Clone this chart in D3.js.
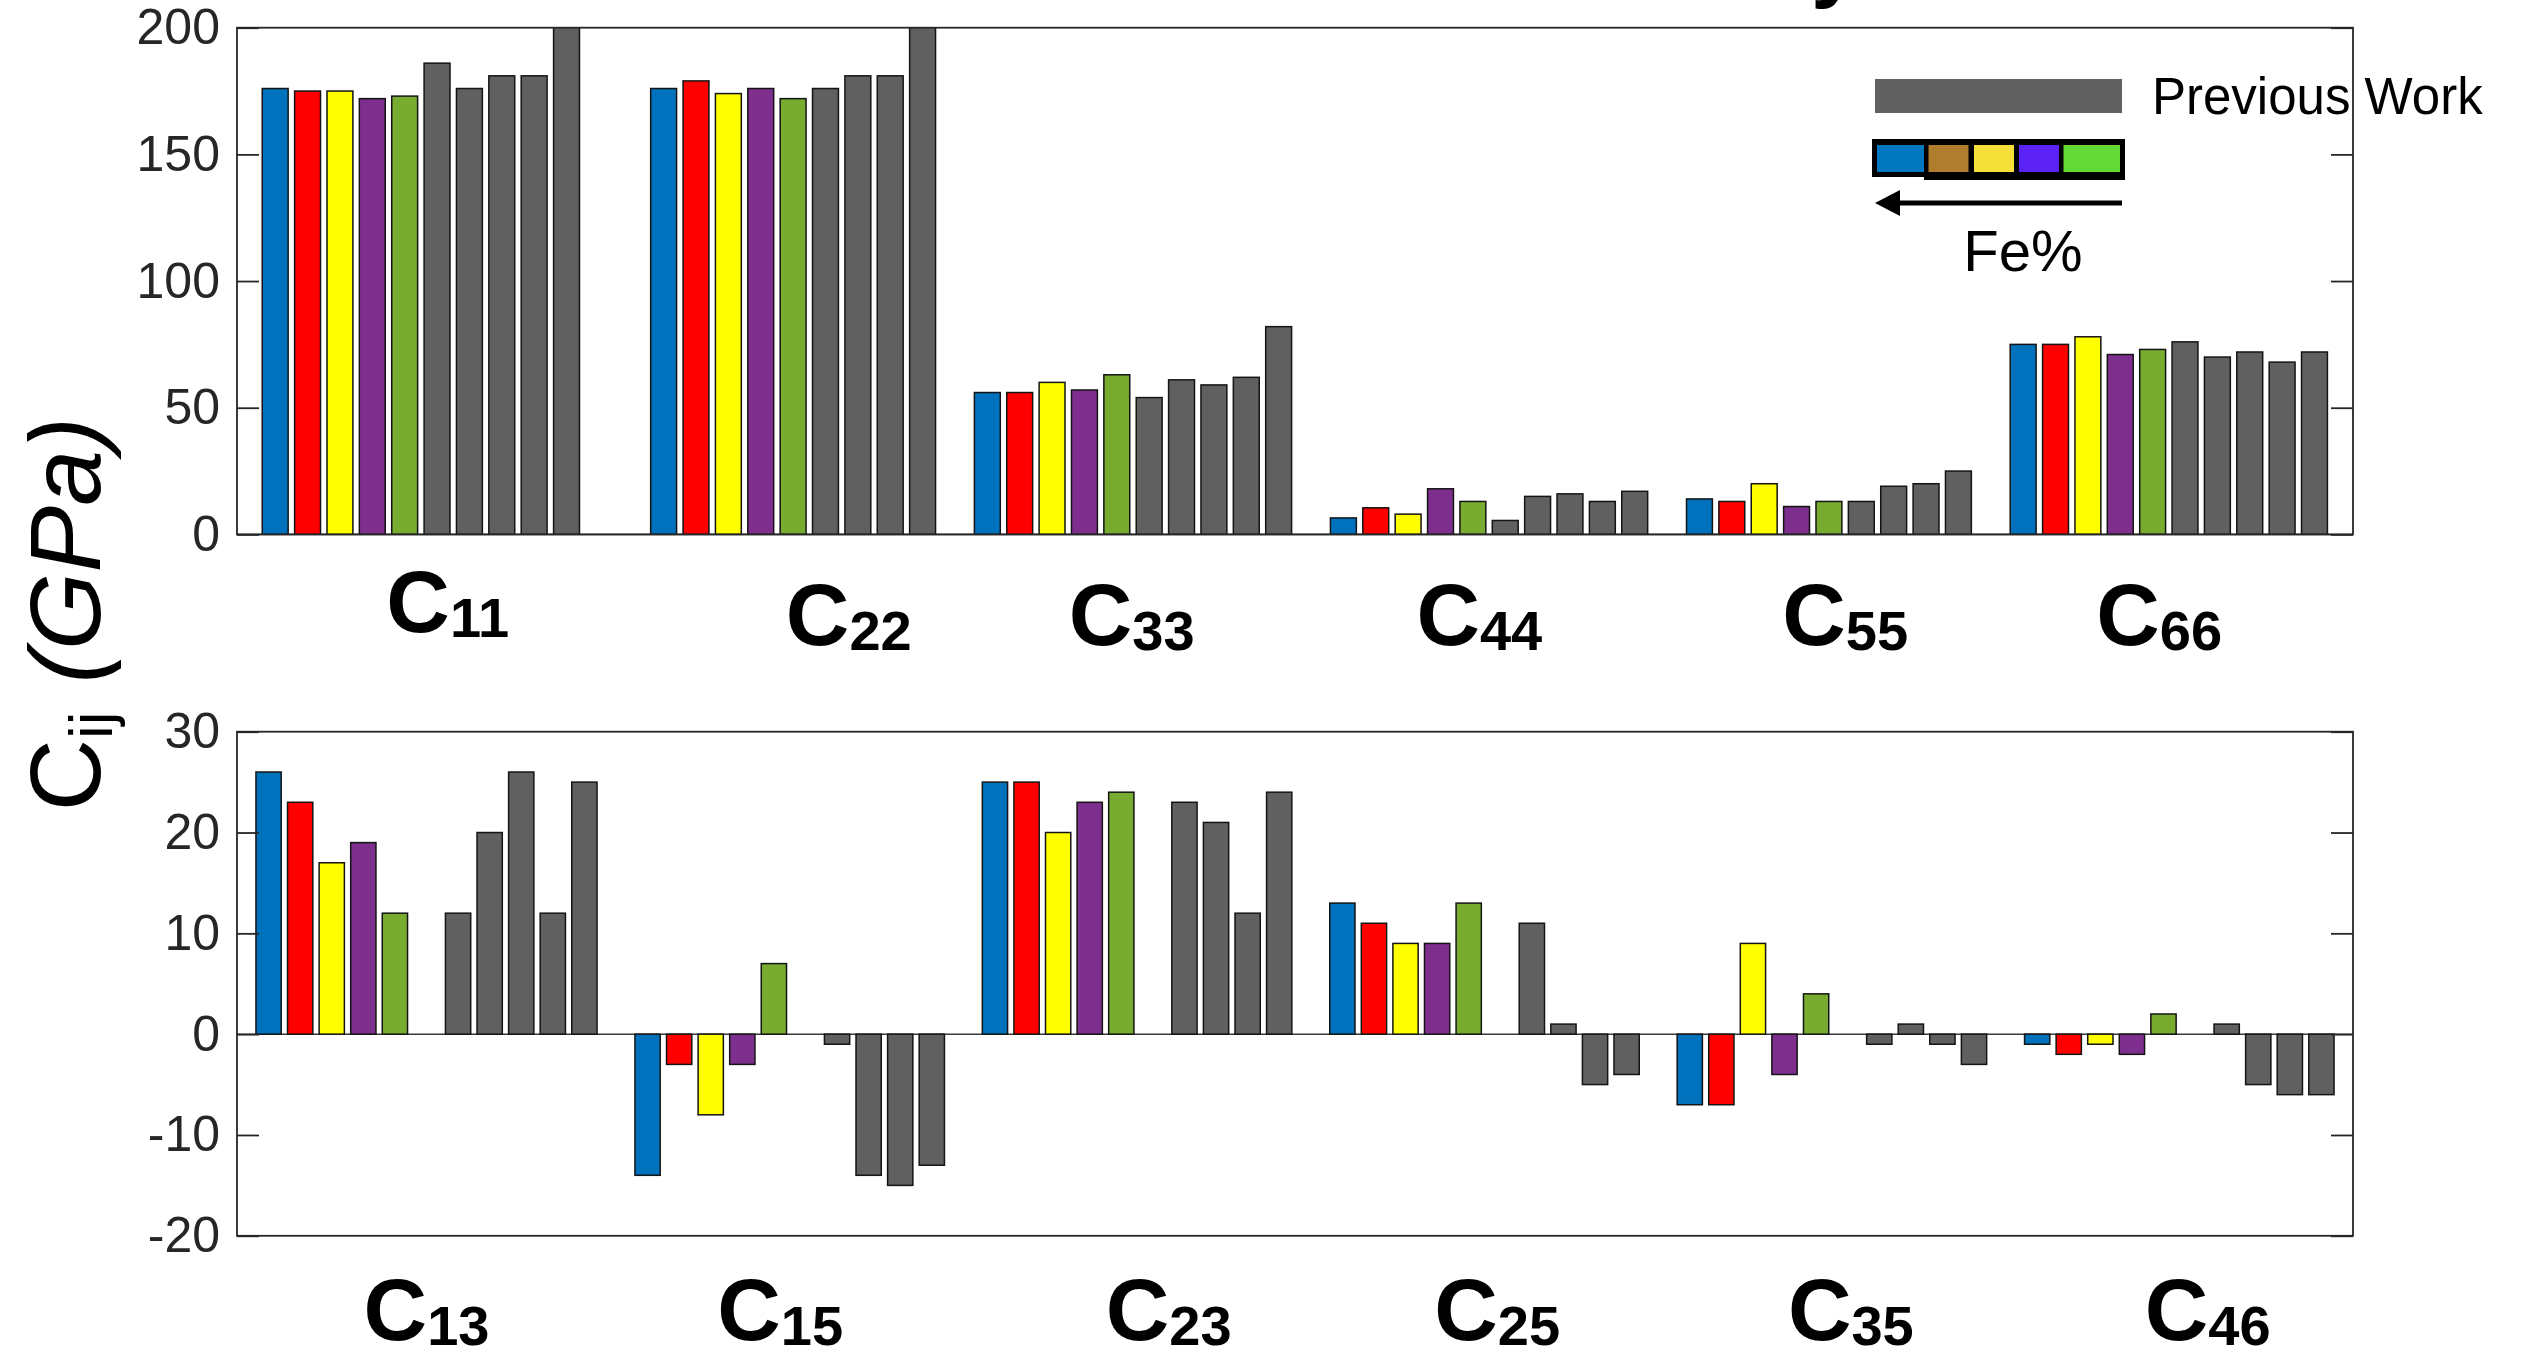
<!DOCTYPE html>
<html><head><meta charset="utf-8">
<script src="https://cdn.jsdelivr.net/npm/d3@7"></script>
<style>html,body{margin:0;padding:0;background:#fff;overflow:hidden}</style>
</head><body>
<svg id="chart" width="2526" height="1353"></svg>
<script>
// ---------------- DATA ----------------
const seriesNames = ["This work 1","This work 2","This work 3","This work 4","This work 5"];
const seriesColors = ["#0072BD","#FF0000","#FFFF00","#7E2F8E","#77AC30"];
const previousColor = "#606060";
const legendSwatches = ["#0077BE","#B07D2E","#F5E03A","#5B22F5","#63D935"];

const topCategories = ["11","22","33","44","55","66"];
const topThisWork = [
  [176,175,175,172,173],
  [176,179,174,176,172],
  [56,56,60,57,63],
  [6.5,10.5,8,18,13],
  [14,13,20,11,13],
  [75,75,78,71,73]
];
const topPrevious = [
  [186,176,181,181,210],
  [176,181,181,210],
  [54,61,59,62,82],
  [5.5,15,16,13,17],
  [13,19,20,25],
  [76,70,72,68,72]
];
const topGroupX = [1,13,23,34,45,55];        // x of first bar of each group (bar-slot units)
const topLabelX = [6.33,18.72,27.46,38.2,49.5,59.2];
const topTicks = [0,50,100,150,200];

const bottomCategories = ["13","15","23","25","35","46"];
const bottomThisWork = [
  [26,23,17,19,12],
  [-14,-3,-8,-3,7],
  [25,25,20,23,24],
  [13,11,9,9,13],
  [-7,-7,9,-4,4],
  [-1,-2,-1,-2,2]
];
const bottomPrevious = [
  [12,20,26,12,25],
  [-1,-14,-15,-13],
  [23,21,12,24],
  [11,1,-5,-4],
  [-1,1,-1,-3],
  [1,-5,-6,-6]
];
const bottomGroupX = [1,13,24,35,46,57];
const bottomLabelX = [6.0,17.2,29.5,39.9,51.1,62.4];
const bottomTicks = [-20,-10,0,10,20,30];

// ---------------- LAYOUT ----------------
const FONT = "'Liberation Sans', Arial, Helvetica, sans-serif";
const svg = d3.select("#chart");
const L = 237, R = 2353;
const AXC = "#262626";

function panel(cfg, idx){
  const x = d3.scaleLinear().domain(cfg.xDomain).range([L, R]);
  const y = d3.scaleLinear().domain(cfg.yDomain).range([cfg.bottom, cfg.top]);
  const g = svg.append("g");
  const clipId = "clip" + idx;
  svg.append("clipPath").attr("id", clipId)
    .append("rect").attr("x", L).attr("y", cfg.top).attr("width", R - L).attr("height", cfg.bottom - cfg.top);

  const bars = [];
  cfg.cats.forEach((c, gi) => {
    cfg.thisWork[gi].forEach((v, si) => {
      if (v != null) bars.push({pos: cfg.groupX[gi] + si, v, color: seriesColors[si]});
    });
    cfg.previous[gi].forEach((v, pi) => {
      if (v != null) bars.push({pos: cfg.groupX[gi] + cfg.prevOffset + pi, v, color: previousColor});
    });
  });

  g.append("line").attr("x1", L).attr("x2", R).attr("y1", y(0)).attr("y2", y(0))
    .attr("stroke", "#3a3a3a").attr("stroke-width", 1.5);

  const hw = 0.4;
  g.append("g").attr("clip-path", `url(#${clipId})`)
    .selectAll("rect").data(bars).join("rect")
    .attr("x", d => x(d.pos - hw))
    .attr("width", d => x(d.pos + hw) - x(d.pos - hw))
    .attr("y", d => Math.min(y(d.v), y(0)))
    .attr("height", d => Math.abs(y(d.v) - y(0)))
    .attr("fill", d => d.color)
    .attr("stroke", "#141414").attr("stroke-width", 1.5);

  const la = d3.axisLeft(y).tickValues(cfg.ticks).tickSize(-22).tickPadding(17).tickFormat(d3.format("d"));
  const lg = g.append("g").attr("transform", `translate(${L},0)`).call(la);
  lg.select(".domain").remove();
  lg.selectAll("line").attr("stroke", AXC).attr("stroke-width", 1.8);
  lg.selectAll("text").attr("font-family", FONT).attr("font-size", 50).attr("fill", AXC)
    .text(d => (d < 0 ? "-" + Math.abs(d) : d));
  const ra = d3.axisRight(y).tickValues(cfg.ticks).tickSize(-22).tickFormat("");
  const rg = g.append("g").attr("transform", `translate(${R},0)`).call(ra);
  rg.select(".domain").remove();
  rg.selectAll("line").attr("stroke", AXC).attr("stroke-width", 1.8);

  g.append("rect").attr("x", L).attr("y", cfg.top).attr("width", R - L).attr("height", cfg.bottom - cfg.top)
    .attr("fill", "none").attr("stroke", AXC).attr("stroke-width", 1.8);

  cfg.cats.forEach((c, i) => {
    const t = g.append("text").attr("x", x(cfg.labelX[i])).attr("y", cfg.labelY - (cfg.labelLift[i] || 0))
      .attr("text-anchor", "middle").attr("font-family", FONT).attr("font-weight", "bold").attr("fill", "#000");
    t.append("tspan").attr("font-size", 88).text("C");
    t.append("tspan").attr("font-size", 56).attr("dy", 5).text(c);
  });
  return {x, y};
}

panel({
  top: 27.7, bottom: 534.4, xDomain: [-0.18, 65.19], yDomain: [0, 200],
  cats: topCategories, thisWork: topThisWork, previous: topPrevious,
  groupX: topGroupX, prevOffset: 5, ticks: topTicks,
  labelX: topLabelX, labelY: 645, labelLift: [13,0,0,0,0,0]
}, 0);

panel({
  top: 731.7, bottom: 1235.8, xDomain: [0, 67], yDomain: [-20, 30],
  cats: bottomCategories, thisWork: bottomThisWork, previous: bottomPrevious,
  groupX: bottomGroupX, prevOffset: 6, ticks: bottomTicks,
  labelX: bottomLabelX, labelY: 1340, labelLift: [0,0,0,0,0,0]
}, 1);

const yl = svg.append("text").attr("transform", "translate(100,614) rotate(-90)")
  .attr("text-anchor", "middle").attr("font-family", FONT).attr("font-size", 100).attr("fill", "#000");
yl.append("tspan").text("C");
yl.append("tspan").attr("font-size", 62).attr("dy", 12).text("ij");
yl.append("tspan").attr("dy", -12).attr("font-style", "italic").text(" (GPa)");

svg.append("text").attr("x", 1811).attr("y", -9).attr("font-family", FONT)
  .attr("font-weight", "bold").attr("font-size", 88).attr("fill", "#000").text("y");

const lgd = svg.append("g");
lgd.append("rect").attr("x", 1875).attr("y", 79).attr("width", 247).attr("height", 34).attr("fill", previousColor);
lgd.append("text").attr("x", 2152).attr("y", 114).attr("font-family", FONT).attr("font-size", 51)
  .attr("fill", "#000").text("Previous Work");
lgd.append("rect").attr("x", 1872).attr("y", 139).attr("width", 253).attr("height", 38).attr("fill", "#000");
lgd.append("rect").attr("x", 1924).attr("y", 170).attr("width", 201).attr("height", 10).attr("fill", "#000");
const swX = [1877, 1928.5, 1974, 2019, 2063.5];
const swW = [47, 40, 40, 40, 56.5];
legendSwatches.forEach((c, i) => {
  lgd.append("rect").attr("x", swX[i]).attr("y", 145).attr("width", swW[i]).attr("height", 27).attr("fill", c);
});
lgd.append("line").attr("x1", 1895).attr("x2", 2122).attr("y1", 203).attr("y2", 203)
  .attr("stroke", "#000").attr("stroke-width", 5);
lgd.append("path").attr("d", "M1875,203 L1900,190 L1900,216 Z").attr("fill", "#000");
lgd.append("text").attr("x", 2023).attr("y", 271).attr("text-anchor", "middle").attr("font-family", FONT)
  .attr("font-size", 58).attr("fill", "#000").text("Fe%");
</script>
</body></html>
